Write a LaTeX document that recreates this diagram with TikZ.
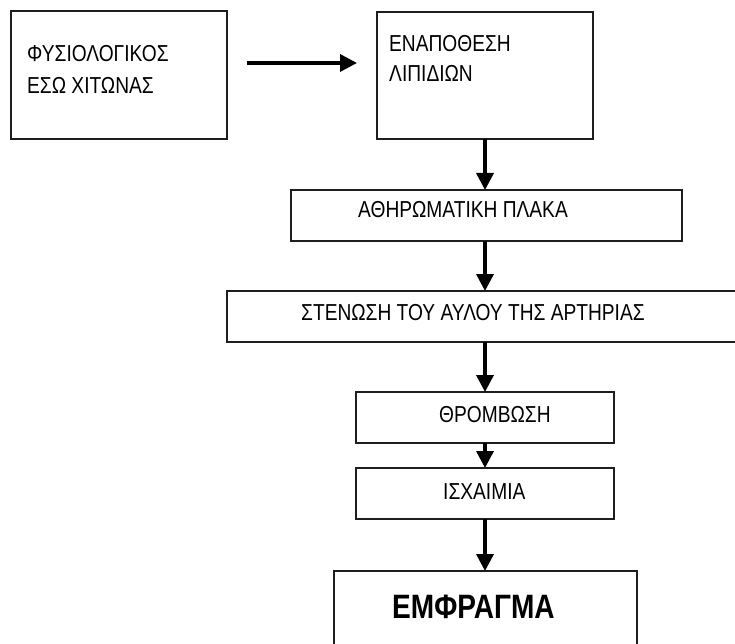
\documentclass[tikz,border=0pt]{standalone}
\usepackage{fontspec}
\newfontfamily\boxfont[FakeStretch=0.83]{Liberation Sans}
\usepackage{tikz}
\usetikzlibrary{arrows.meta,calc}
\usepackage{xcolor}
\definecolor{boxline}{RGB}{30,30,30}

\begin{document}
\begin{tikzpicture}[x=1pt, y=-1pt,
    box/.style={draw=boxline, line width=1.5pt, rectangle, inner sep=0pt, outer sep=0pt, anchor=north west},
    lbl/.style={inner sep=0pt, anchor=base west, font=\boxfont\fontsize{23.1}{26}\selectfont},
    big/.style={inner sep=0pt, anchor=base west, font=\boxfont\bfseries\fontsize{33.8}{38}\selectfont},
    flow/.style={line width=3.5pt, -{Triangle[length=17pt,width=17pt]}}]
    \useasboundingbox (0,0) rectangle (735,644);
    \clip (0,0) rectangle (735,644);
    % Kaestchen
    \node[box, minimum width=216pt, minimum height=128pt] (normal) at (11,11) {};
    \node[box, minimum width=216pt, minimum height=127pt] (lipid) at (377,12) {};
    \node[box, minimum width=391pt, minimum height=51pt] (plaque) at (291,190) {};
    \node[box, minimum width=600pt, minimum height=51pt] (stenosis) at (227,291) {};
    \node[box, minimum width=258pt, minimum height=51pt] (thrombus) at (356,392) {};
    \node[box, minimum width=258pt, minimum height=51pt] (ischemia) at (356,468) {};
    \node[box, minimum width=303pt, minimum height=100pt] (infarct) at (334,571) {};
    % Beschriftungen
    \node[lbl] (normalA) at (27,62) {ΦΥΣΙΟΛΟΓΙΚΟΣ};
    \node[lbl] (normalB) at (27,94) {ΕΣΩ ΧΙΤΩΝΑΣ};
    \node[lbl] (lipidA) at (389,52) {ΕΝΑΠΟΘΕΣΗ};
    \node[lbl] (lipidB) at (389,82) {ΛΙΠΙΔΙΩΝ};
    \node[lbl] (plaqueT) at (358,218) {ΑΘΗΡΩΜΑΤΙΚΗ ΠΛΑΚΑ};
    \node[lbl] (stenosisT) at (301,320) {ΣΤΕΝΩΣΗ ΤΟΥ ΑΥΛΟΥ ΤΗΣ ΑΡΤΗΡΙΑΣ};
    \node[lbl] (thrombusT) at (439,422) {ΘΡΟΜΒΩΣΗ};
    \node[lbl] (ischemiaT) at (443,499) {ΙΣΧΑΙΜΙΑ};
    \node[big] (infarctT) at (392,618) {ΕΜΦΡΑΓΜΑ};
    % Pfeile
    \coordinate (a1) at ($(normal.east)+(20,-12)$);
    \coordinate (a2) at ($(lipid.west |- a1)+(-20,0)$);
    \draw[flow] (a1) -- (a2);
    \draw[flow] (lipid.south) -- (plaque.north -| lipid.south);
    \draw[flow] (plaque.south -| lipid.south) -- (stenosis.north -| lipid.south);
    \draw[flow] (stenosis.south -| thrombus.north) -- (thrombus.north);
    \draw[flow] (thrombus.south) -- (ischemia.north);
    \draw[flow] (ischemia.south) -- (infarct.north -| ischemia.south);
\end{tikzpicture}
\end{document}
